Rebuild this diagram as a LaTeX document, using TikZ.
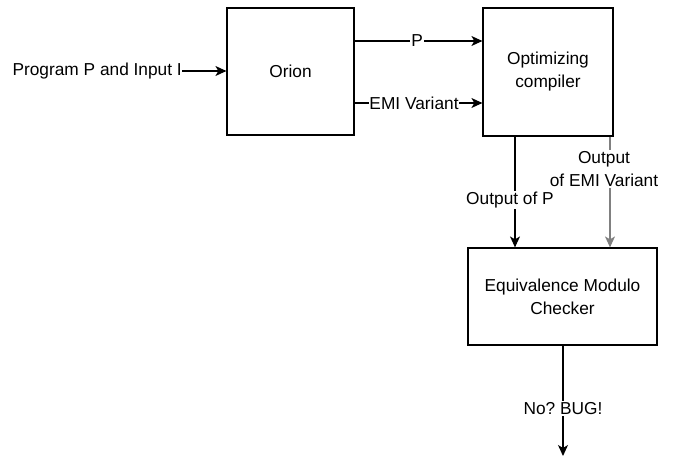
\documentclass[tikz,border=0pt]{standalone}
\usepackage{fontspec}
\setmainfont{Liberation Sans}
\usetikzlibrary{arrows.meta}
\frenchspacing
\begin{document}
\begin{tikzpicture}[x=1pt,y=-1pt,
  block/.style={draw, line width=1.2pt, align=center},
  wire/.style={line width=1.2pt, -{Stealth[length=11pt,width=10pt,inset=3pt]}},
  lbl/.style={fill=white, inner sep=1pt},
  every node/.append style={font=\fontsize{17.3}{23}\selectfont}]
\useasboundingbox (0,0) rectangle (678,458);
% processing blocks
\node[block, minimum width=127pt, minimum height=127pt] (orion) at (290.5,71.5) {Orion};
\node[block, minimum width=130pt, minimum height=128pt] (comp) at (548,72) {Optimizing\\compiler};
\node[block, minimum width=189pt, minimum height=97pt] (emc) at (562.5,296.5) {Equivalence Modulo\\Checker};
% input
\node[inner sep=0pt, anchor=east] (inp) at (182,71) {Program P and Input I};
\draw[wire] (inp.east) -- (orion.west |- inp.east);
% Orion to compiler
\coordinate (p0) at (orion.east |- 0,41);
\coordinate (e0) at (orion.east |- 0,103);
\draw[wire] (p0) -- (comp.west |- p0) node[lbl, pos=0.49] {P};
\draw[wire] (e0) -- (comp.west |- e0) node[lbl, pos=0.465, inner sep=0.5pt] {EMI Variant};
% compiler outputs
\coordinate (o1) at (515,0);
\coordinate (o2) at (610,0);
\draw[wire] (comp.south -| o1) -- (emc.north -| o1) node[lbl, pos=0.57, xshift=-5pt] {Output of P};
\draw[wire, draw=black!50, fill=black!50] (comp.south -| o2) -- (emc.north -| o2);
\node[lbl, inner sep=1pt, align=center] (olab) at (604,169) {Output\\of EMI Variant};
% verdict
\coordinate (out) at (563,456);
\draw[wire] (emc.south -| out) -- (out) node[lbl, pos=0.57] {No? BUG!};
\end{tikzpicture}
\end{document}
